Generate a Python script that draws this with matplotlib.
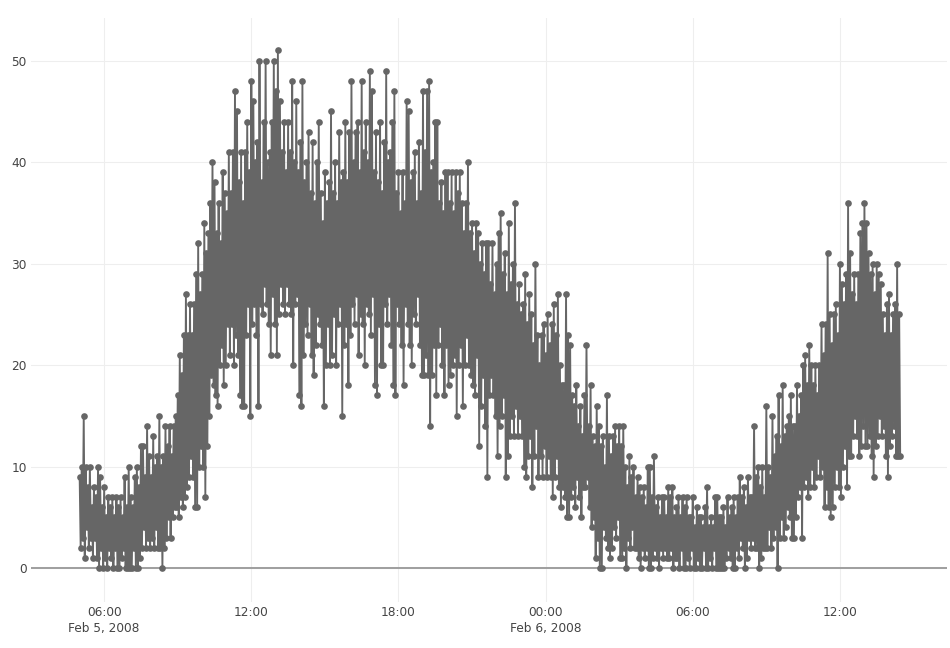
import numpy as np
import pandas as pd
import matplotlib
matplotlib.use('Agg')
import matplotlib.pyplot as plt
import matplotlib.dates as mdates

# upper and lower reading of the count in each 5 minute block, one row per hour from 05:00
highs = [
    9, 10, 15, 10, 8, 10, 6, 8, 7, 10, 9, 6,
    8, 5, 7, 6, 7, 5, 7, 6, 7, 5, 9, 6,
    10, 7, 6, 9, 10, 8, 12, 12, 9, 14, 11, 9,
    13, 10, 11, 15, 10, 11, 14, 12, 14, 11, 14, 15,
    17, 21, 19, 23, 27, 23, 26, 23, 26, 29, 32, 27,
    29, 34, 31, 33, 36, 40, 38, 33, 36, 32, 39, 37,
    35, 41, 37, 41, 47, 45, 38, 41, 36, 41, 44, 39,
    48, 46, 40, 42, 50, 38, 44, 50, 40, 41, 44, 50,
    47, 51, 46, 41, 44, 39, 44, 41, 48, 40, 46, 39,
    42, 48, 38, 40, 43, 37, 42, 36, 40, 44, 37, 34,
    39, 36, 38, 45, 37, 40, 36, 43, 38, 39, 44, 38,
    43, 48, 40, 43, 44, 39, 48, 41, 44, 40, 49, 47,
    39, 43, 38, 44, 37, 42, 49, 40, 41, 44, 47, 37,
    39, 35, 39, 36, 46, 45, 38, 39, 41, 36, 42, 37,
    47, 41, 47, 48, 39, 40, 44, 44, 36, 38, 35, 39,
    39, 36, 39, 35, 39, 37, 39, 36, 33, 36, 40, 33,
    34, 31, 34, 33, 30, 32, 29, 32, 32, 28, 32, 27,
    30, 33, 35, 29, 31, 27, 34, 28, 30, 36, 26, 28,
    25, 26, 29, 24, 27, 25, 22, 30, 23, 20, 23, 24,
    21, 25, 22, 24, 26, 23, 27, 20, 18, 18, 27, 23,
    22, 17, 16, 18, 14, 16, 13, 17, 22, 14, 18, 13,
    12, 16, 14, 12, 13, 10, 17, 13, 11, 13, 14, 12,
    14, 12, 14, 10, 8, 11, 9, 10, 7, 9, 8, 7,
    8, 6, 10, 10, 7, 11, 6, 7, 5, 7, 7, 5,
    8, 7, 8, 5, 6, 7, 5, 7, 6, 7, 5, 5,
    7, 4, 6, 5, 5, 4, 6, 8, 4, 5, 4, 7,
    7, 5, 5, 6, 4, 7, 5, 6, 7, 5, 7, 9,
    7, 8, 6, 9, 7, 7, 14, 9, 10, 8, 10, 7,
    16, 10, 9, 15, 11, 13, 17, 12, 18, 13, 14, 15,
    17, 14, 14, 18, 15, 17, 20, 21, 18, 22, 20, 18,
    20, 17, 20, 24, 21, 24, 31, 25, 22, 25, 26, 23,
    30, 28, 26, 29, 36, 31, 27, 29, 26, 29, 33, 34,
    36, 34, 31, 29, 30, 27, 30, 29, 28, 25, 23, 26,
    27, 23, 25, 26, 30, 25,
]
lows = [
    2, 3, 1, 4, 2, 3, 1, 3, 1, 0, 2, 0,
    1, 0, 2, 1, 0, 2, 0, 0, 1, 2, 0, 0,
    0, 0, 2, 0, 0, 1, 2, 4, 2, 3, 2, 3,
    2, 4, 2, 2, 0, 2, 3, 5, 3, 5, 6, 6,
    5, 7, 6, 7, 8, 9, 11, 9, 6, 6, 10, 12,
    10, 7, 12, 15, 19, 18, 17, 16, 20, 22, 18, 20,
    24, 21, 24, 20, 23, 21, 17, 16, 16, 23, 26, 15,
    24, 26, 23, 16, 26, 25, 28, 26, 24, 21, 27, 24,
    21, 25, 28, 26, 25, 28, 26, 25, 20, 26, 27, 17,
    16, 21, 24, 23, 26, 21, 19, 22, 25, 24, 22, 16,
    20, 24, 20, 21, 25, 20, 24, 26, 15, 22, 24, 18,
    23, 26, 24, 27, 21, 25, 24, 20, 26, 25, 23, 27,
    18, 17, 24, 20, 20, 26, 24, 27, 22, 18, 17, 26,
    24, 22, 18, 26, 24, 22, 20, 25, 24, 27, 22, 19,
    19, 21, 19, 14, 19, 22, 17, 22, 24, 20, 17, 22,
    18, 19, 20, 21, 15, 20, 22, 16, 20, 23, 20, 19,
    18, 17, 21, 12, 16, 19, 14, 9, 17, 19, 17, 15,
    11, 14, 15, 17, 9, 11, 13, 15, 13, 16, 13, 15,
    13, 10, 9, 11, 13, 8, 11, 14, 9, 11, 9, 12,
    9, 11, 9, 7, 9, 11, 8, 6, 8, 7, 5, 5,
    7, 8, 6, 9, 7, 5, 8, 8, 9, 6, 4, 5,
    1, 3, 0, 0, 4, 3, 2, 1, 2, 4, 3, 5,
    1, 1, 2, 0, 3, 2, 4, 2, 2, 1, 0, 2,
    1, 2, 0, 0, 1, 2, 1, 0, 2, 1, 2, 1,
    1, 2, 0, 1, 1, 0, 2, 0, 0, 1, 0, 2,
    0, 0, 1, 0, 0, 2, 0, 0, 1, 0, 2, 0,
    0, 0, 0, 0, 1, 2, 1, 0, 0, 2, 1, 3,
    2, 0, 1, 3, 2, 3, 2, 2, 0, 1, 2, 2,
    2, 4, 2, 3, 4, 0, 3, 5, 3, 4, 6, 5,
    3, 3, 5, 7, 8, 3, 8, 9, 7, 8, 10, 8,
    9, 11, 9, 10, 6, 8, 6, 5, 6, 8, 10, 8,
    7, 10, 12, 8, 11, 11, 13, 15, 13, 11, 12, 14,
    12, 12, 13, 11, 9, 12, 13, 15, 13, 14, 11, 9,
    12, 13, 14, 11, 11, 11,
]
tick_times = ['2008-02-05 06:00', '2008-02-05 12:00', '2008-02-05 18:00',
              '2008-02-06 00:00', '2008-02-06 06:00', '2008-02-06 12:00']
tick_labels = ['06:00\nFeb 5, 2008', '12:00', '18:00', '00:00\nFeb 6, 2008', '06:00', '12:00']

counts = np.column_stack([highs, lows]).ravel()
times = pd.date_range('2008-02-05 05:00', periods=len(counts), freq='150s')
df = pd.DataFrame({'time': times, 'count': counts})

fig = plt.figure(figsize=(9.5, 6.48), dpi=100)
ax = fig.add_axes([31 / 950, 1 - 602 / 648, 916 / 950, 584 / 648])

ax.plot(df['time'], df['count'], color='#666666', linewidth=1.35, marker='o',
        markersize=4.8, markeredgewidth=0, zorder=3)
ax.axhline(0, color='#a0a0a0', linewidth=1.45, zorder=2)

ax.set_xlim(pd.Timestamp('2008-02-05 03:01'), pd.Timestamp('2008-02-06 16:22'))
ax.set_ylim(-3.35, 54.2)
ax.set_xticks(mdates.date2num(pd.to_datetime(tick_times)))
ax.set_xticklabels(tick_labels, linespacing=1.25)
ax.set_yticks([0, 10, 20, 30, 40, 50])
ax.grid(True, color='#eeeeee', linewidth=0.75)
ax.set_axisbelow(True)
ax.tick_params(length=0, labelsize=8.7, labelcolor='#444444', pad=3)
for side in ax.spines:
    ax.spines[side].set_visible(False)

fig.savefig('out.png', dpi=100)
